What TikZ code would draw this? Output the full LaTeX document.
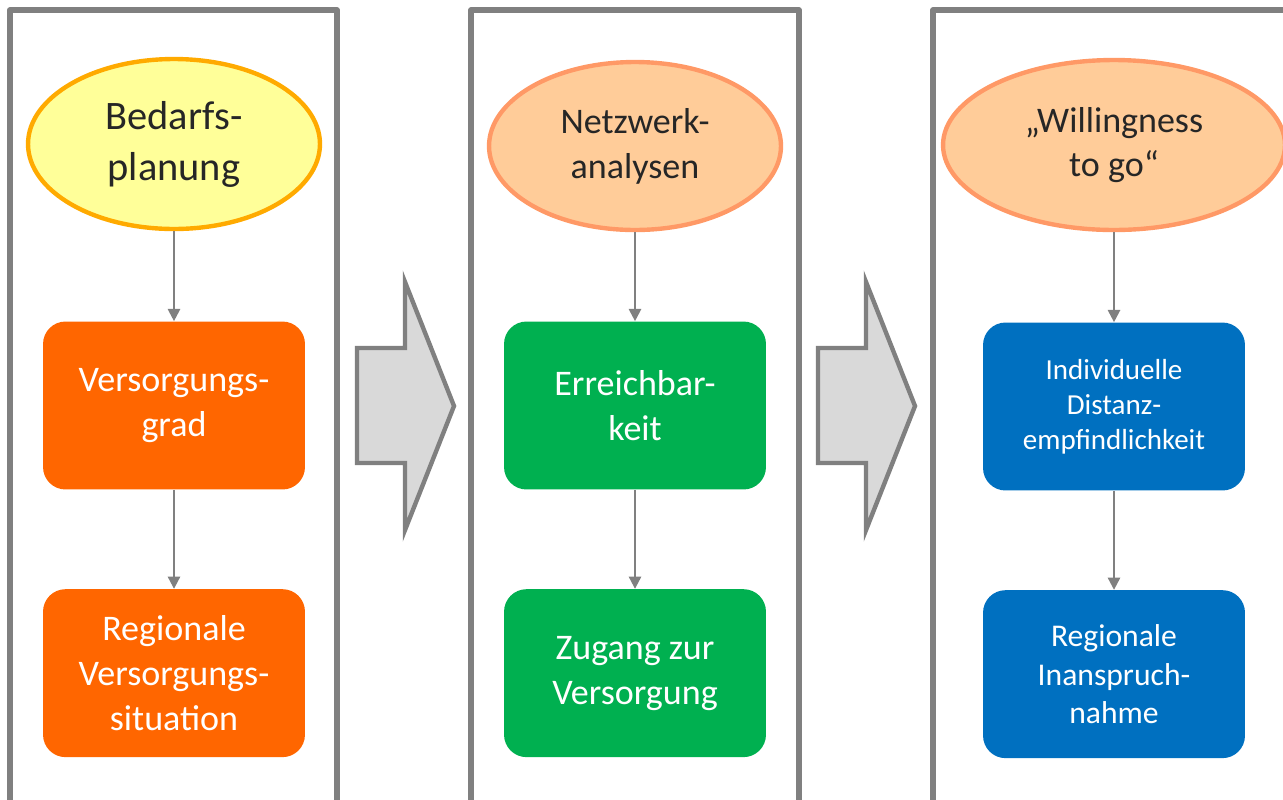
\documentclass[tikz,border=0pt]{standalone}
\usepackage{fontspec}
\setmainfont{Carlito}
\usepackage{tikz}
\usetikzlibrary{shapes.geometric, arrows.meta, positioning}
\definecolor{framegray}{RGB}{128,128,128}
\definecolor{arrowfill}{RGB}{217,217,217}
\definecolor{yellowfill}{RGB}{255,255,153}
\definecolor{yellowline}{RGB}{255,170,0}
\definecolor{peachfill}{RGB}{255,204,153}
\definecolor{peachline}{RGB}{255,153,102}
\definecolor{orangebox}{RGB}{255,102,0}
\definecolor{greenbox}{RGB}{0,176,80}
\definecolor{bluebox}{RGB}{0,112,192}
\definecolor{darktext}{RGB}{38,38,38}
\tikzstyle{topic}    = [ellipse, minimum width=5.84cm, minimum height=3.4cm, line width=2.5pt, align=center, text=darktext, font=\fontsize{20.5}{25.5}\selectfont]
\tikzstyle{result}   = [rectangle, rounded corners=0.45cm, minimum width=5.24cm, minimum height=3.36cm, align=center, text=white, font=\fontsize{20.5}{25.5}\selectfont]
\tikzstyle{arrow}    = [line width=1.2pt, draw=framegray, -{Triangle[width=7pt,length=7pt]}]
\tikzstyle{frame}    = [line width=3.3pt, draw=framegray, line join=round]
\tikzstyle{bigarrow} = [line width=2.5pt, draw=framegray, fill=arrowfill, line join=miter]

\begin{document}
\begin{tikzpicture}[x=0.02cm, y=-0.02cm]

    \useasboundingbox (0,0) rectangle (1283,799);

    % frames
    \draw [frame] (10,805) -- (10,10) -- (337,10) -- (337,805);
    \draw [frame] (471,805) -- (471,10) -- (799,10) -- (799,805);
    \draw [frame] (933,805) -- (933,10) -- (1290,10);

    % big arrows between the frames
    \draw [bigarrow] (357,348) -- (405,348) -- (405,282) -- (454,406) -- (405,530) -- (405,463) -- (357,463) -- cycle;
    \draw [bigarrow] (818,348) -- (866,348) -- (866,282) -- (915,406) -- (866,530) -- (866,463) -- (818,463) -- cycle;

    \node (bedarf)  [topic, fill=yellowfill, draw=yellowline, font=\fontsize{23}{29}\selectfont] at (174,144) {Bedarfs-\\planung};
    \node (netz)    [topic, fill=peachfill, draw=peachline, minimum height=3.36cm] at (635,146) {Netzwerk-\\analysen};
    \node (will)    [topic, fill=peachfill, draw=peachline, minimum width=6.84cm] at (1114,145) {„Willingness\\to go“};

    \node (vgrad)   [result, fill=orangebox, below=1.8cm of bedarf] {Versorgungs-\\grad};
    \node (regvs)   [result, fill=orangebox, below=1.98cm of vgrad]  {Regionale\\Versorgungs-\\situation};
    \node (erreich) [result, fill=greenbox, below=1.78cm of netz]    {Erreichbar-\\keit};
    \node (zugang)  [result, fill=greenbox, below=1.98cm of erreich] {Zugang zur\\Versorgung};
    \node (distanz) [result, fill=bluebox, below=1.8cm of will, font=\fontsize{16.5}{20}\selectfont] {Individuelle\\Distanz-\\empfindlichkeit};
    \node (inanspr) [result, fill=bluebox, below=1.98cm of distanz, font=\fontsize{18}{22}\selectfont] {Regionale\\Inanspruch-\\nahme};

    \draw [arrow] (bedarf) -- (vgrad);
    \draw [arrow] (vgrad) -- (regvs);
    \draw [arrow] (netz) -- (erreich);
    \draw [arrow] (erreich) -- (zugang);
    \draw [arrow] (will) -- (distanz);
    \draw [arrow] (distanz) -- (inanspr);

\end{tikzpicture}
\end{document}
